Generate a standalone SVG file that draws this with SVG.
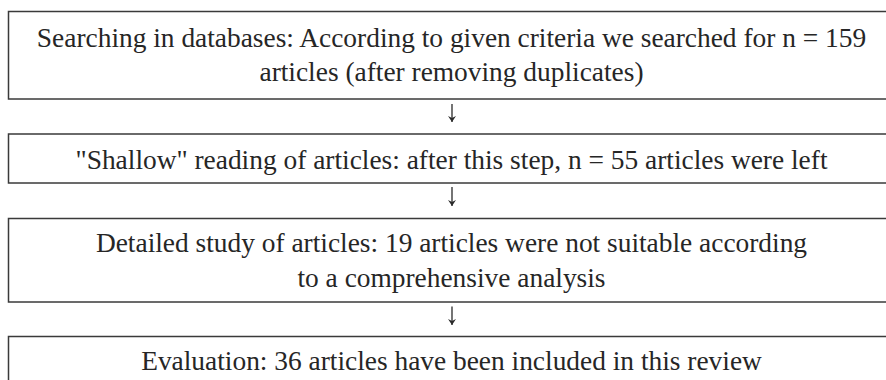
<svg xmlns="http://www.w3.org/2000/svg" width="886" height="380" viewBox="0 0 886 380">
<style>
.box{fill:#fff;stroke:#3a3a3a;stroke-width:1.5}
.t{font-family:"Liberation Serif","Times New Roman",serif;font-size:27.4px;fill:#262626;text-anchor:middle}
.c{stroke:#2a2a2a;stroke-width:1.3;fill:none}
</style>
<defs>
<marker id="ad" viewBox="0 0 8 7" refX="4" refY="7" markerWidth="8" markerHeight="7" markerUnits="userSpaceOnUse" orient="0">
<path d="M0,1 L4,7 L8,1 L4,3 Z" fill="#2a2a2a"/>
</marker>
</defs>
<rect width="886" height="380" fill="#fff"/>
<g id="node1">
<rect class="box" x="8.5" y="11.5" width="900" height="87.5"/>
<text class="t" x="451.5" y="47">Searching in databases: According to given criteria we searched for n = 159</text>
<text class="t" x="451.5" y="80.5">articles (after removing duplicates)</text>
</g>
<g id="node2">
<rect class="box" x="8.5" y="134" width="900" height="49"/>
<text class="t" x="451.5" y="168.5">"Shallow" reading of articles: after this step, n = 55 articles were left</text>
</g>
<g id="node3">
<rect class="box" x="8.5" y="218.5" width="900" height="83.5"/>
<text class="t" x="451.5" y="252">Detailed study of articles: 19 articles were not suitable according</text>
<text class="t" x="451.5" y="286.5">to a comprehensive analysis</text>
</g>
<g id="node4">
<rect class="box" x="8.5" y="336.5" width="900" height="60"/>
<text class="t" x="451.5" y="370">Evaluation: 36 articles have been included in this review</text>
</g>
<g id="connectors">
<line class="c" x1="452" y1="104" x2="452" y2="122" marker-end="url(#ad)"/>
<line class="c" x1="452" y1="187" x2="452" y2="206" marker-end="url(#ad)"/>
<line class="c" x1="452" y1="306.5" x2="452" y2="325" marker-end="url(#ad)"/>
</g>
</svg>
